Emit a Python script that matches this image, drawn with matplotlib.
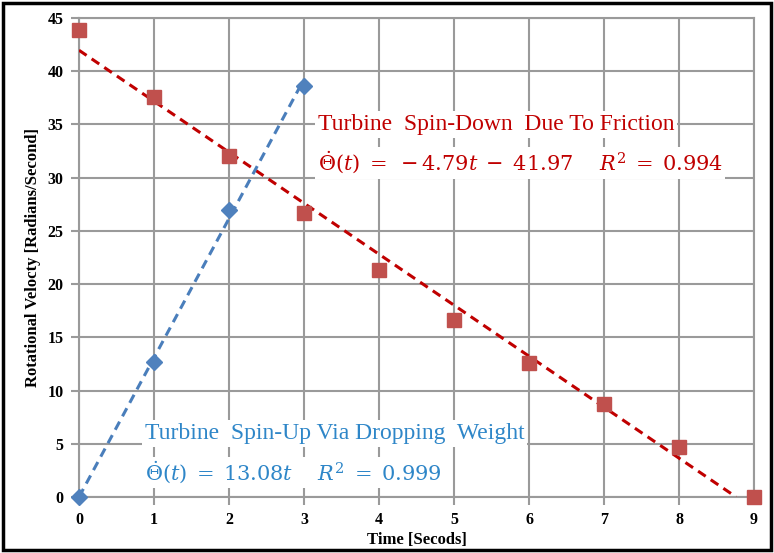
import matplotlib
matplotlib.use("Agg")
import matplotlib.pyplot as plt
from matplotlib.patches import Rectangle
import numpy as np

plt.rcParams['mathtext.fontset'] = 'dejavuserif'

t_down = [0, 1, 2, 3, 4, 5, 6, 7, 8, 9]
w_down = [43.9, 37.6, 32.0, 26.7, 21.3, 16.6, 12.6, 8.7, 4.7, 0.0]
t_up = [0, 1, 2, 3]
w_up = [0.0, 12.7, 27.0, 38.6]

slope_down, icpt_down = -4.79, 41.97
slope_up = 13.08

xticks = list(range(0, 10))
yticks = list(range(0, 50, 5))

red_m = '#c0504d'
blue_m = '#4f81bd'
red_l = '#c00000'
blue_l = '#4a7ebb'
txt_red = '#c00000'
txt_blue = '#2e86c8'

fig = plt.figure(figsize=(7.74, 5.53), dpi=100)
ax = fig.add_axes([79/774, 1-497/553, (754-79)/774, (497-18)/553])

# trend lines
td = np.array([0, icpt_down/(-slope_down)])
ax.plot(td, slope_down*td + icpt_down, ls=(0, (3, 2)), color=red_l, lw=2.2, zorder=3)
tu = np.array([0, 3])
ax.plot(tu, slope_up*tu, ls=(0, (3, 2)), color=blue_l, lw=2.2, zorder=3)

ax.plot(t_down, w_down, ls='none', marker='s', ms=10.5, color=red_m, clip_on=False, zorder=4)
ax.plot(t_up, w_up, ls='none', marker='D', ms=8.5, color=blue_m, clip_on=False, zorder=4)

ax.set_xlim(0, 9)
ax.set_ylim(0, 45)
ax.set_xticks(xticks)
ax.set_yticks(yticks)
ax.grid(True, color='#9a9a9a', lw=1.5)
for s in ax.spines.values():
    s.set_color('#9a9a9a')
    s.set_linewidth(1.5)
ax.tick_params(direction='out', length=6, width=1.5, color='#9a9a9a', pad=5)
ax.set_axisbelow(True)
for lab in ax.get_xticklabels() + ax.get_yticklabels():
    lab.set_fontfamily('Liberation Serif')
    lab.set_fontweight('bold')
    lab.set_fontsize(11.5)

ax.set_xlabel('Time [Secods]', fontfamily='Liberation Serif', fontweight='bold', fontsize=12, labelpad=3)
ax.set_ylabel('Rotational Velocty [Radians/Second]', fontfamily='Liberation Serif', fontweight='bold',
              fontsize=12, labelpad=5)

bb = dict(facecolor='white', edgecolor='none', pad=2)
ax.text(3.18, 35.0, 'Turbine  Spin-Down  Due To Friction', color=txt_red, fontsize=17,
        fontfamily='Liberation Serif', va='center', ha='left', bbox=bb, zorder=5)
ax.text(3.18, 31.4, r'$\dot{\Theta}(t)\;=\;-4.79t\;-\;41.97\quad\ R^2\;=\;0.994$', color=txt_red,
        fontsize=15, va='center', ha='left', bbox=bb, zorder=5)
ax.text(0.88, 5.95, 'Turbine  Spin-Up Via Dropping  Weight', color=txt_blue, fontsize=17,
        fontfamily='Liberation Serif', va='center', ha='left', bbox=bb, zorder=5)
ax.text(0.88, 2.3, r'$\dot{\Theta}(t)\;=\;13.08t\quad\ R^2\;=\;0.999$', color=txt_blue, fontsize=15,
        va='center', ha='left', bbox=bb, zorder=5)

fig.patches.append(Rectangle((3/774, 3/553), 1-6/774, 1-6/553, transform=fig.transFigure,
                             fill=False, edgecolor='black', lw=2.5))

fig.savefig('out.png', dpi=100)
